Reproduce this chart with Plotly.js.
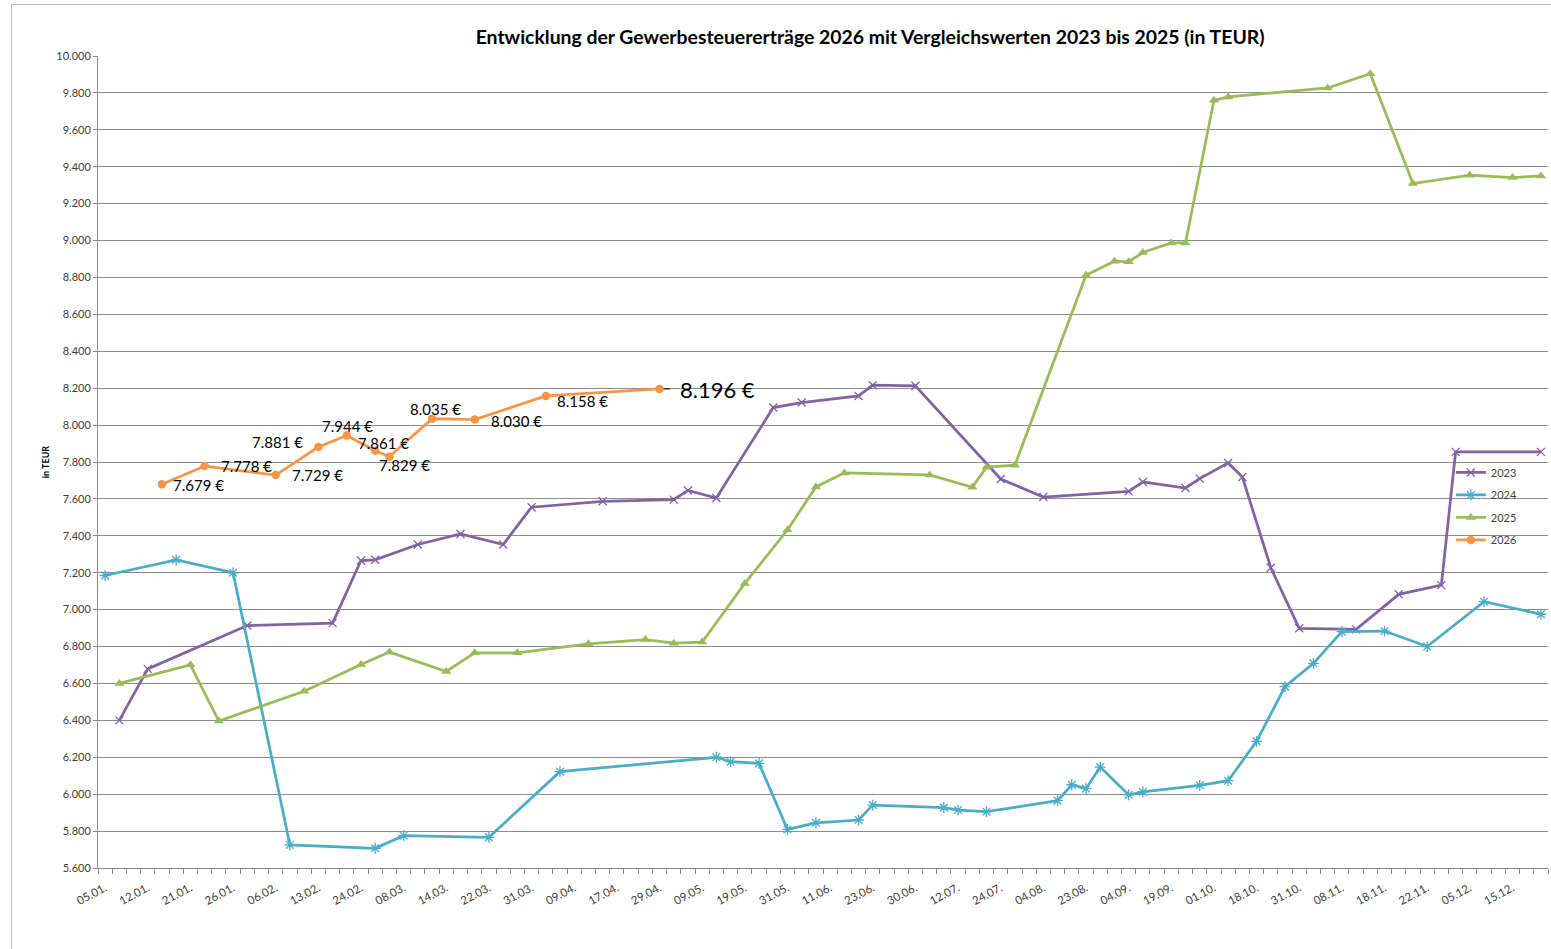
<!DOCTYPE html>
<html>
<head>
<meta charset="utf-8">
<script src="https://cdn.plot.ly/plotly-3.0.1.min.js"></script>
<style>
  html, body { margin: 0; padding: 0; background: #ffffff; }
  #chart { position: absolute; left: 0; top: 0; width: 1551px; height: 949px; }
  #frame { position: absolute; left: 11px; top: 4px; width: 1600px; height: 1000px;
           border-left: 1.5px solid #bdbdbd; border-top: 1.5px solid #bdbdbd; pointer-events: none; }
</style>
</head>
<body>
<div id="chart"></div>
<div id="frame"></div>
<script>
// ---- data ----
const tickLabels = ['05.01.','12.01.','21.01.','26.01.','06.02.','13.02.','24.02.','08.03.','14.03.','22.03.',
  '31.03.','09.04.','17.04.','29.04.','09.05.','19.05.','31.05.','11.06.','23.06.','30.06.','12.07.','24.07.',
  '04.08.','23.08.','04.09.','19.09.','01.10.','18.10.','31.10.','08.11.','18.11.','22.11.','05.12.','15.12.'];
const categoryCount = 102;   // number of date slots on the category axis
const labelEvery = 3;        // a tick label on every 3rd slot

const x2023 = [1,3,10,16,18,19,22,25,28,30,35,40,41,43,47,49,53,54,57,63,66,72,73,76,77,79,80,82,84,88,91,94,95,101];
const y2023 = [6400,6679,6914,6927,7266,7270,7353,7410,7353,7555,7587,7596,7646,7605,8095,8122,8158,8216,8213,7708,7610,7641,7692,7659,7710,7795,7719,7227,6899,6893,7083,7133,7855,7855];

const x2024 = [0,5,9,13,19,21,27,32,43,44,46,48,50,53,54,59,60,62,67,68,69,70,72,73,77,79,81,83,85,87,90,93,97,101];
const y2024 = [7185,7270,7200,5725,5707,5775,5766,6122,6200,6176,6167,5809,5845,5860,5941,5927,5914,5905,5965,6051,6030,6147,5997,6012,6048,6073,6286,6583,6709,6881,6884,6800,7043,6975];

const x2025 = [1,6,8,14,18,20,24,26,29,34,38,40,42,45,48,50,52,58,61,62,64,69,71,72,73,75,76,78,79,86,89,92,96,99,101];
const y2025 = [6600,6701,6396,6558,6703,6770,6665,6766,6766,6815,6838,6818,6824,7142,7432,7665,7741,7730,7663,7772,7783,8812,8888,8885,8935,8987,8987,9760,9778,9827,9904,9309,9354,9341,9350];

const x2026 = [4,7,12,15,17,19,20,23,26,31,39];
const y2026 = [7679,7778,7729,7881,7944,7861,7829,8035,8030,8158,8196];

// ---- label placement for the 2026 data labels (style only) ----
const labelPlacement = [
  {xanchor:'left',   xshift:9,   yshift:-1},
  {xanchor:'left',   xshift:14,  yshift:0},
  {xanchor:'left',   xshift:14,  yshift:0},
  {xanchor:'right',  xshift:-13, yshift:5},
  {xanchor:'center', xshift:1,   yshift:9},
  {xanchor:'center', xshift:8,   yshift:8},
  {xanchor:'center', xshift:15,  yshift:-8},
  {xanchor:'center', xshift:3,   yshift:10},
  {xanchor:'left',   xshift:14,  yshift:-1},
  {xanchor:'left',   xshift:9,   yshift:-5},
  {xanchor:'left',   xshift:18,  yshift:-1, size:22, leader:true}
];

function fmtDE(v) {
  return String(Math.round(v)).replace(/\B(?=(\d{3})+(?!\d))/g, '.') + ' €';
}

const FONT = 'Lato, "Open Sans", "Liberation Sans", sans-serif';
const colors = {c2023:'#8064A2', c2024:'#4BACC6', c2025:'#9BBB59', c2026:'#F79646'};

const traces = [
  {name:'2023', legendgroup:'a', x:x2023, y:y2023, type:'scatter', mode:'lines+markers',
   line:{color:colors.c2023, width:2.75},
   marker:{symbol:'x-thin-open', size:8, color:colors.c2023, line:{color:colors.c2023, width:1.3}}},
  {name:'2024', legendgroup:'b', x:x2024, y:y2024, type:'scatter', mode:'lines+markers',
   line:{color:colors.c2024, width:2.75},
   marker:{symbol:'asterisk-open', size:9, color:colors.c2024, line:{color:colors.c2024, width:1.3}}},
  {name:'2025', legendgroup:'c', x:x2025, y:y2025, type:'scatter', mode:'lines+markers',
   line:{color:colors.c2025, width:2.75},
   marker:{symbol:'triangle-up', size:9, color:colors.c2025}},
  {name:'2026', legendgroup:'d', x:x2026, y:y2026, type:'scatter', mode:'lines+markers',
   line:{color:colors.c2026, width:2.75},
   marker:{symbol:'circle', size:8.5, color:colors.c2026}}
];

const tickVals = tickLabels.map((_, k) => k * labelEvery);

const annotations = [];
x2026.forEach((xv, k) => {
  const p = labelPlacement[k];
  annotations.push({
    x: xv, y: y2026[k], xref:'x', yref:'y', text: fmtDE(y2026[k]), showarrow:false,
    xanchor: p.xanchor, yanchor:'middle', xshift: p.xshift, yshift: p.yshift,
    font:{family:FONT, size:p.size || 15, color:'#000000'}
  });
  if (p.leader) {
    annotations.push({
      x: xv, y: y2026[k], xref:'x', yref:'y', text:'', showarrow:true,
      arrowhead:0, arrowwidth:1, arrowcolor:'#000000', ax:12, ay:0, standoff:4
    });
  }
});

const layout = {
  width:1551, height:949,
  margin:{l:98, r:3, t:56, b:81, pad:0},
  paper_bgcolor:'#ffffff', plot_bgcolor:'#ffffff',
  separators:',.',
  font:{family:FONT, color:'#404040'},
  title:{text:'Entwicklung der Gewerbesteuererträge 2026 mit Vergleichswerten 2023 bis 2025 (in TEUR)',
         font:{family:FONT, size:19.4, color:'#000000', weight:'bold'},
         x:0.5325, xref:'paper', xanchor:'center', y:0.961, yref:'container', yanchor:'middle'},
  showlegend:true,
  legend:{x:0.933, xanchor:'left', y:0.505, yanchor:'top', bgcolor:'rgba(0,0,0,0)',
          font:{family:FONT, size:11, color:'#404040'}, tracegroupgap:3.5},
  xaxis:{range:[-0.5, categoryCount - 0.5], tickmode:'array', tickvals:tickVals, ticktext:tickLabels,
         tickangle:-28, tickfont:{family:FONT, size:11.5, color:'#404040'}, ticklabelstandoff:8,
         ticks:'', showgrid:false, zeroline:false, showline:true, linecolor:'#8c8c8c', linewidth:1,
         minor:{tickmode:'linear', tick0:-0.5, dtick:1, ticks:'outside', ticklen:5, tickcolor:'#8c8c8c', tickwidth:1, showgrid:false},
         fixedrange:true},
  yaxis:{range:[5600, 10000], dtick:200, tick0:5600, tickformat:',d',
         tickfont:{family:FONT, size:11, color:'#404040'},
         ticks:'outside', ticklen:4, tickcolor:'#8c8c8c',
         showgrid:true, gridcolor:'#8c8c8c', gridwidth:1, zeroline:false,
         showline:true, linecolor:'#8c8c8c', linewidth:1,
         title:{text:'in TEUR', font:{family:FONT, size:9, color:'#000000', weight:'bold'}, standoff:5},
         fixedrange:true},
  annotations: annotations
};

Plotly.newPlot('chart', traces, layout, {displayModeBar:false, staticPlot:true});
</script>
</body>
</html>
